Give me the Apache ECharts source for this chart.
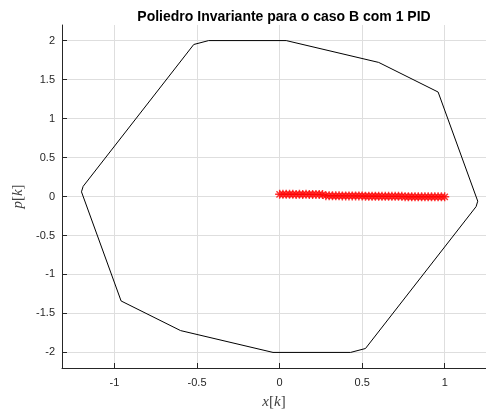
<!DOCTYPE html>
<html>
<head>
<meta charset="utf-8">
<script src="https://cdn.jsdelivr.net/npm/echarts@6/dist/echarts.min.js"></script>
<style>html,body{margin:0;padding:0;background:#fff}#c{width:486px;height:411px}</style>
</head>
<body>
<div id="c"></div>
<script>
// Polyhedron vertices (closed polygon)
const polyX = [-1.19, -0.52, -0.43, 0.04, 0.60, 0.96, 1.20, 1.19, 0.52, 0.43, -0.04, -0.60, -0.96, -1.20, -1.19];
const polyY = [0.13, 1.95, 2.00, 2.00, 1.72, 1.34, -0.06, -0.13, -1.95, -2.00, -2.00, -1.72, -1.34, 0.06, 0.13];
// Trajectory points (red asterisks)
const trajX = [0.00, 0.02, 0.04, 0.06, 0.08, 0.10, 0.12, 0.14, 0.16, 0.18, 0.20, 0.22, 0.24, 0.26,
               0.28, 0.30, 0.32, 0.34, 0.36, 0.38, 0.40, 0.42, 0.44, 0.46, 0.48, 0.50,
               0.52, 0.54, 0.56, 0.58, 0.60, 0.62, 0.64, 0.66, 0.68, 0.70, 0.72, 0.74,
               0.76, 0.78, 0.80, 0.82, 0.84, 0.86, 0.88, 0.90, 0.92, 0.94, 0.96, 0.98, 1.00];
const trajY = [0.028, 0.029, 0.028, 0.029, 0.028, 0.027, 0.028, 0.027, 0.028, 0.027, 0.027, 0.026, 0.026, 0.025,
               0.010, 0.010, 0.009, 0.009, 0.009, 0.008, 0.008, 0.008, 0.008, 0.008, 0.007, 0.007,
               0.003, 0.003, 0.003, 0.003, 0.003, 0.002, 0.002, 0.002, 0.002, 0.002, 0.002, 0.002,
               -0.003, -0.003, -0.003, -0.004, -0.004, -0.004, -0.004, -0.004, -0.004, -0.004, -0.004, -0.004, -0.004];
const xTicks = [-1, -0.5, 0, 0.5, 1];
const yTicks = [-2, -1.5, -1, -0.5, 0, 0.5, 1, 1.5, 2];
const titleText = 'Poliedro Invariante para o caso B com 1 PID';

const poly = polyX.map((x, i) => [x, polyY[i]]);
const traj = trajX.map((x, i) => [x, trajY[i]]);
const asterisk = 'path://M5,0L5,10M0,5L10,5M1.5,1.5L8.5,8.5M8.5,1.5L1.5,8.5';

const chart = echarts.init(document.getElementById('c'), null, {renderer: 'canvas'});
const nameStyle = {fontFamily: 'Liberation Serif', fontSize: 15, color: '#404040',
  rich: {i: {fontStyle: 'italic', fontFamily: 'Liberation Serif', fontSize: 15, color: '#404040'}}};
function axisOpts(ticks, margin) {
  return {
    axisLine: {show: true, onZero: false, lineStyle: {color: '#262626', width: 1}},
    axisTick: {show: true, inside: true, length: 5, customValues: ticks, lineStyle: {color: '#262626'}},
    splitLine: {show: true, lineStyle: {color: '#dedede', width: 1}},
    axisLabel: {color: '#262626', fontFamily: 'Liberation Sans, Arial', fontSize: 11, margin: margin,
      customValues: ticks, formatter: v => String(v)}
  };
}
chart.setOption({
  animation: false,
  title: {
    text: titleText, left: 279, top: 5, textAlign: 'center',
    textStyle: {fontFamily: 'Liberation Sans, Arial', fontWeight: 'bold', fontSize: 14, color: '#000'}
  },
  grid: {left: 62, right: 0, top: 25, bottom: 43, outerBoundsMode: 'none', containLabel: false},
  xAxis: Object.assign(axisOpts(xTicks, 9), {
    type: 'value', min: -1.318, max: 1.25,
    name: '{i|x}[{i|k}]', nameLocation: 'middle', nameGap: 27, nameTextStyle: nameStyle
  }),
  yAxis: Object.assign(axisOpts(yTicks, 7), {
    type: 'value', min: -2.2, max: 2.2,
    name: '{i|p}[{i|k}]', nameLocation: 'middle', nameGap: 36, nameTextStyle: nameStyle
  }),
  series: [
    {type: 'line', data: poly, showSymbol: false, lineStyle: {color: '#000', width: 1}, z: 2},
    {type: 'scatter', data: traj, symbol: asterisk, symbolSize: 9,
      itemStyle: {color: 'rgba(0,0,0,0)', borderColor: '#ff0000', borderWidth: 1.4}, z: 3}
  ]
});
</script>
</body>
</html>
